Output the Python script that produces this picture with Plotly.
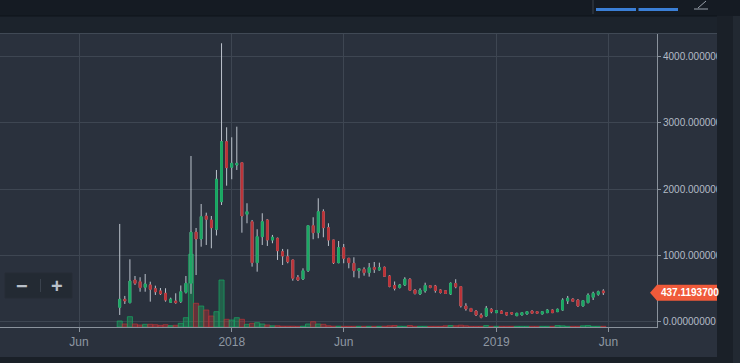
import plotly.graph_objects as go
import pandas as pd

# ---------------- data (weekly candles) ----------------
week_start = "2017-07-30"
n_weeks = 96
dates = pd.date_range(week_start, periods=n_weeks, freq="7D")

open_ = [217, 338, 287, 629, 603, 519, 554, 498, 463, 428,
         293, 312, 305, 443, 579, 1350, 1247, 1594, 1534, 1394,
         1810, 2715, 2329, 2363, 2398, 1620, 1508, 890, 1282, 1534,
         1232, 1258, 1056, 980, 931, 670, 644, 769, 1448, 1342,
         1659, 1418, 1232, 890, 1116, 956, 881, 769, 790, 739,
         818, 780, 820, 689, 546, 516, 554, 640, 478, 418,
         463, 543, 538, 478, 466, 418, 576, 528, 237, 199,
         161, 101, 86, 187, 136, 161, 136, 136, 90, 101,
         116, 161, 151, 116, 136, 176, 151, 176, 312, 342,
         327, 237, 287, 368, 413, 463]
high = [1474, 388, 941, 689, 670, 719, 603, 543, 508, 504,
        362, 428, 546, 689, 2499, 1413, 1775, 1644, 1594, 2288,
        4199, 2932, 2781, 2941, 2398, 1786, 1534, 1394, 1635, 1544,
        1308, 1267, 1097, 1092, 931, 704, 805, 1448, 1575, 1861,
        1695, 1484, 1232, 1217, 1172, 956, 971, 799, 820, 885,
        900, 890, 830, 704, 606, 569, 670, 655, 486, 504,
        588, 549, 554, 486, 471, 591, 640, 528, 278, 207,
        172, 127, 237, 202, 176, 169, 142, 146, 131, 142,
        161, 169, 157, 161, 187, 184, 196, 353, 388, 350,
        338, 327, 428, 452, 468, 489]
low = [101, 267, 278, 554, 452, 452, 302, 403, 403, 302,
       287, 271, 282, 425, 420, 704, 1131, 1157, 1107, 1300,
       1760, 2051, 2148, 2288, 1342, 1484, 830, 754, 1157, 1142,
       1183, 931, 855, 881, 618, 614, 629, 750, 1243, 1258,
       1273, 1142, 870, 881, 881, 805, 670, 655, 694, 679,
       735, 772, 674, 519, 471, 501, 538, 463, 410, 403,
       437, 504, 437, 425, 418, 403, 504, 214, 166, 146,
       86, 51, 75, 127, 131, 124, 94, 109, 86, 97,
       109, 121, 121, 112, 131, 131, 146, 166, 267, 302,
       226, 229, 278, 327, 392, 403]
close = [338, 312, 614, 579, 513, 569, 489, 452, 422, 327,
         340, 287, 452, 579, 1350, 1247, 1584, 1544, 1418, 2148,
         2715, 2323, 2389, 2389, 1594, 1659, 890, 1282, 1508, 1232,
         1273, 1071, 991, 905, 655, 629, 769, 1448, 1342, 1659,
         1418, 1232, 890, 1116, 956, 890, 769, 799, 739, 814,
         790, 814, 685, 534, 504, 554, 641, 474, 425, 478,
         546, 516, 471, 440, 425, 579, 526, 237, 192, 154,
         101, 66, 202, 151, 166, 127, 101, 116, 127, 136,
         151, 127, 127, 151, 176, 136, 187, 327, 353, 308,
         237, 317, 403, 428, 452, 437.11937]
# volume (relative units)
volume = [6, 3, 10.3, 3, 2, 2.7, 2.7, 2.3, 1.7, 2.3,
          1.3, 1.7, 3.7, 9.3, 72.7, 23.7, 21, 17, 11, 15.3,
          47, 7.7, 7, 9.3, 7.7, 2.7, 3.7, 4.3, 3, 2,
          1.2, 1.2, 0.8, 0.8, 0.8, 0.7, 0.8, 3, 5.3, 3,
          2.7, 1.2, 0.8, 0.8, 0.7, 0.7, 0.7, 0.7, 0.7, 0.7,
          0.7, 0.7, 0.8, 1.2, 1.5, 0.8, 0.7, 1.5, 0.7, 0.7,
          0.7, 0.7, 0.7, 0.7, 1.2, 1.5, 1.2, 1.8, 1.2, 0.7,
          0.7, 0.7, 1.5, 0.7, 0.7, 0.7, 0.7, 0.7, 0.7, 0.7,
          0.7, 0.7, 0.7, 0.7, 0.7, 0.7, 1.5, 1.2, 0.7, 0.7,
          0.7, 1.2, 1.5, 0.7, 0.7, 0.7]

x_tick_vals = ["2017-06-04", "2017-12-31", "2018-06-03", "2018-12-30", "2019-06-02"]
x_tick_text = ["Jun", "2018", "Jun", "2019", "Jun"]
y_tick_step = 1000

# ---------------- styling ----------------
BG = "#2a313d"
GRID = "#3e4652"
AXIS = "#8a929c"
GREEN = "#18a862"
RED = "#bb3338"
WICK = "#bcc3cc"
FONT = "Liberation Sans"

W, H = 740, 363
PL, PR, PT, PB = 0, 83, 33, 36
plot_w = W - PL - PR
plot_h = H - PT - PB


def px(xp):
    return (xp - PL) / plot_w


def py(yp):
    return (H - PB - yp) / plot_h


up = [c >= o for o, c in zip(open_, close)]
vol_fill = ["rgba(24,168,98,0.40)" if u else "rgba(187,51,56,0.40)" for u in up]
vol_line = ["rgba(24,168,98,0.7)" if u else "rgba(187,51,56,0.7)" for u in up]
body_hi = [max(o, c) for o, c in zip(open_, close)]
body_lo = [min(o, c) for o, c in zip(open_, close)]

fig = go.Figure()
fig.add_trace(go.Bar(
    x=dates, y=volume, yaxis="y", width=7 * 86400000,
    marker=dict(color=vol_fill, line=dict(color=vol_line, width=1)),
    hoverinfo="skip",
))
fig.add_trace(go.Candlestick(
    x=dates, open=open_, high=high, low=low, close=close, yaxis="y2",
    increasing=dict(line=dict(color=WICK, width=1), fillcolor=GREEN),
    decreasing=dict(line=dict(color=WICK, width=1), fillcolor=RED),
    hoverinfo="skip",
))
fig.add_trace(go.Candlestick(
    x=dates, open=open_, high=body_hi, low=body_lo, close=close, yaxis="y2",
    increasing=dict(line=dict(color=GREEN, width=1), fillcolor=GREEN),
    decreasing=dict(line=dict(color=RED, width=1), fillcolor=RED),
    hoverinfo="skip",
))

y_lo, y_hi = -80.3, 4354
last = close[-1]
half = 8 * (y_hi - y_lo) / plot_h

shapes = [
    # header
    dict(type="rect", xref="paper", yref="paper", x0=px(0), x1=px(W), y0=py(16), y1=py(0),
         fillcolor="#151b23", line=dict(width=0), layer="above"),
    dict(type="rect", xref="paper", yref="paper", x0=px(0), x1=px(717), y0=py(33), y1=py(16),
         fillcolor="#1c232c", line=dict(width=0), layer="above"),
    dict(type="line", xref="paper", yref="paper", x0=px(0), x1=px(717), y0=py(16), y1=py(16),
         line=dict(color="#0f141a", width=1), layer="above"),
    dict(type="line", xref="paper", yref="paper", x0=px(0), x1=px(717), y0=py(33.5), y1=py(33.5),
         line=dict(color="#404955", width=1), layer="above"),
    dict(type="rect", xref="paper", yref="paper", x0=px(596), x1=px(636), y0=py(11), y1=py(8),
         fillcolor="#3b7fd6", line=dict(width=0), layer="above"),
    dict(type="rect", xref="paper", yref="paper", x0=px(638.5), x1=px(678), y0=py(11), y1=py(8),
         fillcolor="#3b7fd6", line=dict(width=0), layer="above"),
    dict(type="line", xref="paper", yref="paper", x0=px(593), x1=px(593), y0=py(14), y1=py(0),
         line=dict(color="#3a424c", width=1), layer="above"),
    dict(type="line", xref="paper", yref="paper", x0=px(694), x1=px(708), y0=py(9), y1=py(9),
         line=dict(color="#9aa2ac", width=1), layer="above"),
    dict(type="line", xref="paper", yref="paper", x0=px(698), x1=px(706), y0=py(8), y1=py(1),
         line=dict(color="#9aa2ac", width=1), layer="above"),
    # price tag
    dict(type="path", xref="paper", yref="y2",
         path=f"M {px(650)},{last} L {px(657)},{last + half} L {px(717)},{last + half} "
              f"L {px(717)},{last - half} L {px(657)},{last - half} Z",
         fillcolor="#f05a3a", line=dict(width=0), layer="above"),
    # right and bottom strips
    dict(type="rect", xref="paper", yref="paper", x0=px(717), x1=px(733), y0=py(H), y1=py(16),
         fillcolor="#1a2028", line=dict(width=0), layer="above"),
    dict(type="rect", xref="paper", yref="paper", x0=px(733), x1=px(W), y0=py(H), y1=py(16),
         fillcolor="#222932", line=dict(width=0), layer="above"),
    dict(type="rect", xref="paper", yref="paper", x0=px(0), x1=px(717), y0=py(H), y1=py(357),
         fillcolor="#1a2028", line=dict(width=0), layer="above"),
    # zoom widget
    dict(type="rect", xref="paper", yref="paper", x0=px(5), x1=px(72), y0=py(298), y1=py(273),
         fillcolor="#232a33", line=dict(color="#262d37", width=1), layer="above"),
    dict(type="line", xref="paper", yref="paper", x0=px(40.5), x1=px(40.5), y0=py(292), y1=py(279),
         line=dict(color="#3a424d", width=1), layer="above"),
]

annotations = [
    dict(xref="paper", yref="y2", x=px(659), y=last, xanchor="left", yanchor="middle",
         text="<b>" + f"{last:.8f}"[:11] + "</b>", showarrow=False,
         font=dict(family=FONT, size=10, color="#ffffff")),
    dict(xref="paper", yref="paper", x=px(21.5), y=py(285.5), xanchor="center", yanchor="middle",
         text="<b>−</b>", showarrow=False, font=dict(family=FONT, size=20, color="#b9c0c9")),
    dict(xref="paper", yref="paper", x=px(56.5), y=py(285.5), xanchor="center", yanchor="middle",
         text="<b>+</b>", showarrow=False, font=dict(family=FONT, size=20, color="#b9c0c9")),
]

fig.update_layout(
    width=W, height=H,
    margin=dict(l=PL, r=PR, t=PT, b=PB, autoexpand=False),
    paper_bgcolor=BG, plot_bgcolor=BG,
    showlegend=False, bargap=0, boxgap=0.5,
    hovermode=False,
    font=dict(family=FONT),
    xaxis=dict(
        type="date", range=["2017-02-15 09:00", "2019-08-07 19:00"],
        tickmode="array", tickvals=x_tick_vals, ticktext=x_tick_text,
        showgrid=True, gridcolor=GRID, gridwidth=1,
        showline=True, linecolor=AXIS, linewidth=1,
        ticks="outside", ticklen=4, tickcolor=AXIS,
        tickfont=dict(family=FONT, size=12, color="#8e97a2"),
        rangeslider=dict(visible=False), zeroline=False, fixedrange=True,
    ),
    yaxis=dict(range=[0, plot_h], visible=False, fixedrange=True),
    yaxis2=dict(
        overlaying="y", side="right", anchor="x",
        range=[y_lo, y_hi], tickmode="linear", tick0=0, dtick=y_tick_step,
        tickformat=".8f",
        showgrid=True, gridcolor=GRID, gridwidth=1,
        showline=True, linecolor=AXIS, linewidth=1,
        ticks="outside", ticklen=3, tickcolor=AXIS,
        tickfont=dict(family=FONT, size=10, color="#b3bbc6"),
        zeroline=False, fixedrange=True,
    ),
    shapes=shapes, annotations=annotations,
)

fig.write_html(
    "out.html",
    config={"displayModeBar": False, "staticPlot": True},
    post_script="document.body.style.margin='0';document.body.style.background='#2a313d';",
)
